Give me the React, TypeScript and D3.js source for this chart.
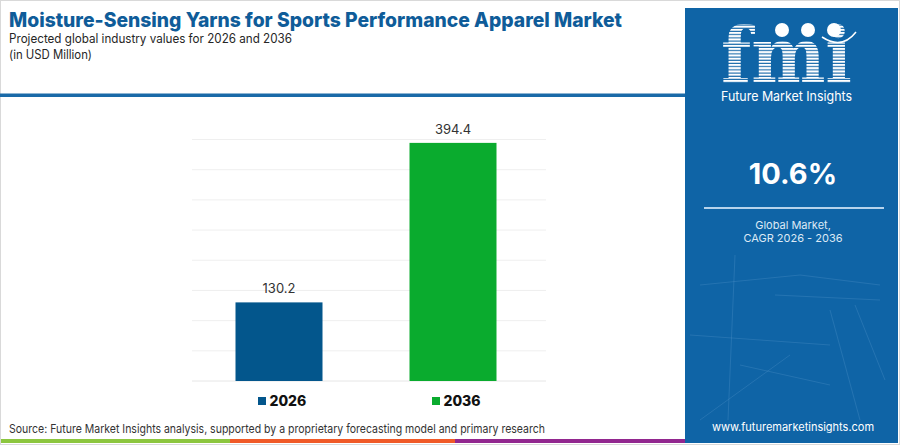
import { scaleBand, scaleLinear } from 'd3'

const years = ['2026', '2036']
const values = [130.2, 394.4]
const colors = ['#03568c', '#0aab2e']
const yTicks = [0, 50, 100, 150, 200, 250, 300, 350, 400]

const cagr = '10.6%'
const title = 'Moisture-Sensing Yarns for Sports Performance Apparel Market'
const subtitle = 'Projected global industry values for 2026 and 2036'
const unit = '(in USD Million)'
const source = 'Source: Future Market Insights analysis, supported by a proprietary forecasting model and primary research'

const W = 900
const H = 445
const font = 'Inter, "Noto Sans", sans-serif'

export default function App() {
  // plot area
  const margin = { left: 192, right: 360, top: 139.5, bottom: 64 }
  const x = scaleBand().domain(years).range([margin.left, W - margin.right]).paddingInner(0.5).paddingOuter(0.25)
  const y = scaleLinear().domain([0, 400]).range([H - margin.bottom, margin.top])

  const panelX = 685
  const panelCx = panelX + 108

  return (
    <svg width={W} height={H} style={{ position: 'absolute', left: 0, top: 0, display: 'block' }} fontFamily={font}>
      <defs>
        <pattern id="stripes" width="4" height="3.2" patternUnits="userSpaceOnUse">
          <rect width="4" height="2.1" fill="#ffffff" />
        </pattern>
      </defs>
      <rect x={0.5} y={0.5} width={W - 1} height={H - 1} fill="#fff" stroke="#d9d9d9" />

      {/* header */}
      <text x={9} y={26.5} fontSize={20} fontWeight={800} fill="#0f5c99" textLength={613} lengthAdjust="spacingAndGlyphs">
        {title}
      </text>
      <text x={9} y={43} fontSize={12.5} fill="#262626" textLength={283} lengthAdjust="spacingAndGlyphs">
        {subtitle}
      </text>
      <text x={9} y={58.5} fontSize={12.5} fill="#262626" textLength={83} lengthAdjust="spacingAndGlyphs">
        {unit}
      </text>
      <rect x={0} y={93.5} width={panelX} height={3.5} fill="#1a6aa8" />

      {/* gridlines */}
      {yTicks.map((t) => (
        <line key={t} x1={margin.left} x2={W - margin.right + 6} y1={y(t)} y2={y(t)} stroke={t === 0 ? '#e6e6e6' : '#efefef'} strokeWidth={1} />
      ))}

      {/* bars */}
      {years.map((yr, i) => (
        <g key={yr}>
          <rect x={x(yr)} y={y(values[i])} width={x.bandwidth()} height={y(0) - y(values[i])} fill={colors[i]} />
          <text x={(x(yr) as number) + x.bandwidth() / 2} y={y(values[i]) - 9} textAnchor="middle" fontSize={13} fill="#333">
            {values[i].toFixed(1)}
          </text>
        </g>
      ))}

      {/* legend */}
      {years.map((yr, i) => {
        const cx = (x(yr) as number) + x.bandwidth() / 2
        return (
          <g key={'lg' + yr}>
            <rect x={cx - 21} y={397} width={8} height={8} fill={colors[i]} />
            <text x={cx - 9.5} y={405.5} fontSize={14} fontWeight={800} fill="#111">
              {yr}
            </text>
          </g>
        )
      })}

      <text x={9} y={433} fontSize={12} fill="#333" textLength={536} lengthAdjust="spacingAndGlyphs">
        {source}
      </text>

      {/* bottom stripes */}
      <rect x={1} y={439} width={229} height={4} fill="#8cc63f" />
      <rect x={230} y={439} width={225} height={4} fill="#f05a28" />
      <rect x={455} y={439} width={230} height={4} fill="#92278f" />

      {/* right panel */}
      <rect x={panelX} y={8} width={W - panelX - 2} height={435} fill="#0f64a6" />
      <g stroke="#5d9ed1" strokeOpacity={0.35} strokeWidth={0.8}>
        <line x1={735} y1={255} x2={728} y2={420} />
        <line x1={700} y1={285} x2={800} y2={275} />
        <line x1={800} y1={275} x2={880} y2={285} />
        <line x1={775} y1={295} x2={880} y2={300} />
        <line x1={690} y1={335} x2={830} y2={345} />
        <line x1={740} y1={365} x2={830} y2={385} />
        <line x1={830} y1={310} x2={860} y2={420} />
        <line x1={700} y1={420} x2={790} y2={355} />
        <line x1={855} y1={305} x2={885} y2={380} />
      </g>

      {/* logo */}
      <text x={721} y={82} fontSize={76} fontWeight={700} fontFamily='"DejaVu Serif", serif' fill="url(#stripes)" textLength={131} lengthAdjust="spacingAndGlyphs">
        fmi
      </text>
      {[782, 808, 834].map((cx) => (
        <circle key={cx} cx={cx} cy={30} r={7} fill="#fff" />
      ))}
      <path d="M822,37 Q842,50 856,32" fill="none" stroke="#fff" strokeWidth={1.5} />
      <text x={786.5} y={101} textAnchor="middle" fontSize={13.5} fill="#fff" textLength={131} lengthAdjust="spacingAndGlyphs">
        Future Market Insights
      </text>

      <text x={panelCx} y={184} textAnchor="middle" fontSize={29} fontWeight={700} fill="#fff">
        {cagr}
      </text>
      <line x1={704} x2={884} y1={208} y2={208} stroke="#b6d3ec" strokeWidth={2} />
      <text x={panelCx} y={229} textAnchor="middle" fontSize={11} fill="#dce9f5">
        Global Market,
      </text>
      <text x={panelCx} y={241.5} textAnchor="middle" fontSize={11} fill="#dce9f5">
        CAGR 2026 - 2036
      </text>
      <text x={panelCx} y={431} textAnchor="middle" fontSize={11} fill="#fff">
        www.futuremarketinsights.com
      </text>
    </svg>
  )
}
